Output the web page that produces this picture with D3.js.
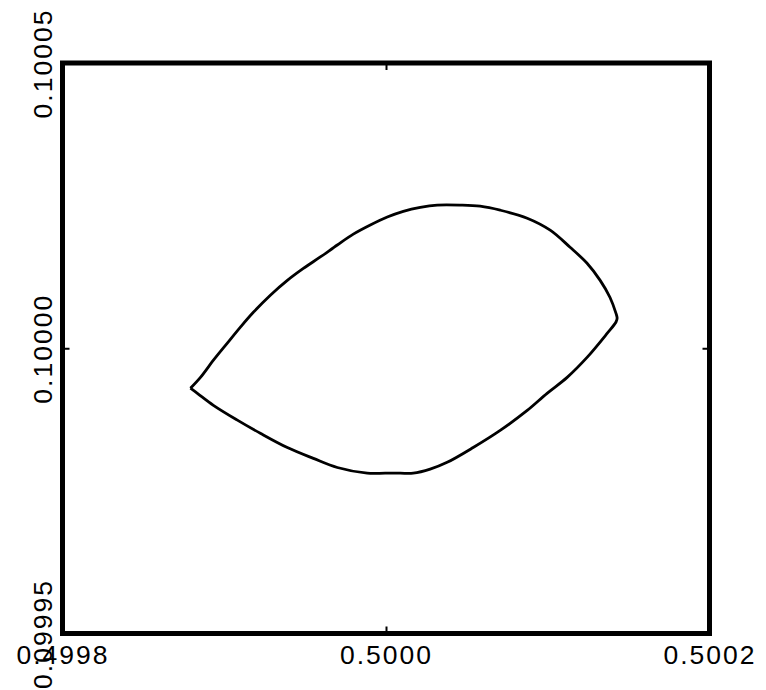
<!DOCTYPE html>
<html>
<head>
<meta charset="utf-8">
<script src="https://cdn.jsdelivr.net/npm/d3@7"></script>
<style>
  html, body { margin: 0; padding: 0; background: #fff; }
  svg { display: block; }
  .tick text { font-family: "Liberation Sans", Arial, Helvetica, sans-serif; font-size: 26.5px; letter-spacing: 2px; fill: #000; }
</style>
</head>
<body>
<svg id="chart" width="766" height="690"></svg>
<script>
// ---- data ----
const xDomain = [0.4998, 0.5002];
const yDomain = [0.09995, 0.10005];
const xTicks = [0.4998, 0.5000, 0.5002];
const xTickLabels = ["0.4998", "0.5000", "0.5002"];
const yTicks = [0.09995, 0.10000, 0.10005];
const yTickLabels = ["0.09995", "0.10000", "0.10005"];

// closed orbit (x, y)
const orbitX = [
  0.4998791, 0.4998853, 0.4998933, 0.4999019, 0.4999100, 0.4999180, 0.4999285, 0.4999390,
  0.4999489, 0.4999594, 0.4999699, 0.4999798, 0.4999903, 0.5000008, 0.5000107, 0.5000212,
  0.5000317, 0.5000459, 0.5000582, 0.5000706, 0.5000873, 0.5001015, 0.5001138, 0.5001243,
  0.5001324, 0.5001385, 0.5001422, 0.5001429, 0.5001422, 0.5001367, 0.5001243, 0.5001120,
  0.5000996, 0.5000873, 0.5000706, 0.5000539, 0.5000378, 0.5000273, 0.5000168, 0.5000088,
  0.4999995, 0.4999884, 0.4999699, 0.4999551, 0.4999390, 0.4999223, 0.4999081, 0.4998933,
  0.4998834, 0.4998791
];
const orbitY = [
  0.0999930, 0.0999949, 0.0999979, 0.1000009, 0.1000037, 0.1000063, 0.1000093, 0.1000119,
  0.1000140, 0.1000160, 0.1000181, 0.1000200, 0.1000216, 0.1000230, 0.1000240, 0.1000247,
  0.1000251, 0.1000251, 0.1000249, 0.1000242, 0.1000228, 0.1000207, 0.1000177, 0.1000149,
  0.1000119, 0.1000089, 0.1000061, 0.1000053, 0.1000046, 0.1000026, 0.0999984, 0.0999949,
  0.0999921, 0.0999891, 0.0999856, 0.0999826, 0.0999800, 0.0999788, 0.0999781, 0.0999781,
  0.0999781, 0.0999781, 0.0999791, 0.0999807, 0.0999826, 0.0999851, 0.0999874, 0.0999900,
  0.0999921, 0.0999930
];

// ---- layout ----
const svg = d3.select("#chart");
const mLeft = 62.5, mRight = 709.5, mTop = 63, mBottom = 633.5;

const x = d3.scaleLinear().domain(xDomain).range([mLeft, mRight]);
const y = d3.scaleLinear().domain(yDomain).range([mBottom, mTop]);

// bottom axis with labels
const gx = svg.append("g").attr("transform", `translate(0,${mBottom})`)
  .call(d3.axisBottom(x).tickValues(xTicks).tickFormat((d, i) => xTickLabels[i])
    .tickSizeInner(-7).tickSizeOuter(0).tickPadding(12));
gx.select(".domain").remove();
gx.selectAll(".tick line").attr("stroke", "#000").attr("stroke-width", 2);
gx.selectAll(".tick text").attr("font-size", null).attr("font-family", null);

// top axis (ticks only)
const gxt = svg.append("g").attr("transform", `translate(0,${mTop})`)
  .call(d3.axisTop(x).tickValues(xTicks).tickFormat("").tickSizeInner(-7).tickSizeOuter(0));
gxt.select(".domain").remove();
gxt.selectAll(".tick line").attr("stroke", "#000").attr("stroke-width", 2);

// left axis with rotated labels
const gy = svg.append("g").attr("transform", `translate(${mLeft},0)`)
  .call(d3.axisLeft(y).tickValues(yTicks).tickFormat((d, i) => yTickLabels[i])
    .tickSizeInner(-7).tickSizeOuter(0));
gy.select(".domain").remove();
gy.selectAll(".tick line").attr("stroke", "#000").attr("stroke-width", 2);
gy.selectAll(".tick text")
  .attr("font-size", null).attr("font-family", null)
  .attr("transform", "rotate(-90)")
  .attr("x", 0).attr("y", -11).attr("dy", 0)
  .attr("text-anchor", "middle");

// right axis (ticks only)
const gyr = svg.append("g").attr("transform", `translate(${mRight},0)`)
  .call(d3.axisRight(y).tickValues(yTicks).tickFormat("").tickSizeInner(-7).tickSizeOuter(0));
gyr.select(".domain").remove();
gyr.selectAll(".tick line").attr("stroke", "#000").attr("stroke-width", 2);

// orbit curve
const pts = orbitX.map((v, i) => [v, orbitY[i]]);
const line = d3.line().x(d => x(d[0])).y(d => y(d[1])).curve(d3.curveCatmullRom.alpha(0.5));
svg.append("path").datum(pts)
  .attr("d", line)
  .attr("fill", "none")
  .attr("stroke", "#000")
  .attr("stroke-width", 2.8)
  .attr("stroke-linejoin", "round");

// frame
svg.append("rect")
  .attr("x", mLeft).attr("y", mTop)
  .attr("width", mRight - mLeft).attr("height", mBottom - mTop)
  .attr("fill", "none").attr("stroke", "#000").attr("stroke-width", 5);
</script>
</body>
</html>
